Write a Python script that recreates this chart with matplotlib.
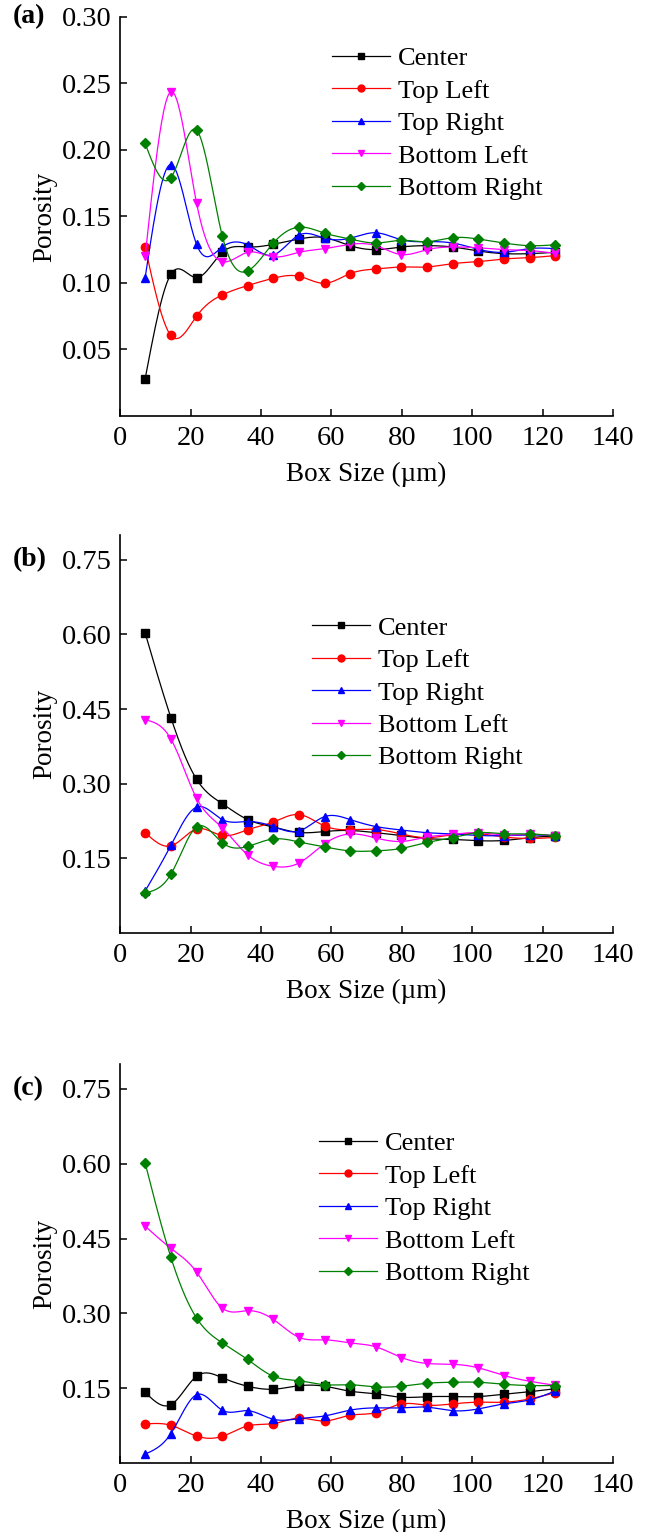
import numpy as np
import matplotlib
matplotlib.use("Agg")
import matplotlib.pyplot as plt

plt.rcParams['font.family'] = ['Liberation Serif', 'DejaVu Serif']

# box sizes (um)
box_size = [7.1, 14.4, 21.7, 29.0, 36.2, 43.5, 50.8, 58.1, 65.3,
            72.6, 79.9, 87.2, 94.4, 101.7, 109.0, 116.3, 123.4]

names = ["Center", "Top Left", "Top Right", "Bottom Left", "Bottom Right"]
colors = ["black", "#ff0000", "#0000ff", "#ff00ff", "#008000"]
markers = ["s", "o", "^", "v", "D"]

# (a)
a_center = [0.028, 0.1065, 0.104, 0.123, 0.127, 0.129, 0.133, 0.134, 0.128,
            0.125, 0.127, 0.128, 0.127, 0.124, 0.122, 0.122, 0.123]
a_topleft = [0.127, 0.0605, 0.075, 0.091, 0.098, 0.1035, 0.105, 0.0997, 0.107,
             0.1105, 0.112, 0.112, 0.1145, 0.116, 0.118, 0.119, 0.1205]
a_topright = [0.104, 0.189, 0.129, 0.127, 0.1286, 0.121, 0.136, 0.1336, 0.1336,
              0.1377, 0.1324, 0.131, 0.130, 0.1253, 0.123, 0.1258, 0.1258]
a_botleft = [0.120, 0.2437, 0.160, 0.116, 0.123, 0.1196, 0.123, 0.1258, 0.129,
             0.128, 0.1213, 0.125, 0.127, 0.1264, 0.125, 0.1243, 0.1223]
a_botright = [0.2048, 0.179, 0.2148, 0.1354, 0.109, 0.130, 0.1419, 0.1374, 0.133,
              0.130, 0.132, 0.131, 0.134, 0.133, 0.130, 0.128, 0.1286]

# (b)
b_center = [0.603, 0.433, 0.309, 0.260, 0.228, 0.213, 0.202, 0.204, 0.206,
            0.2016, 0.196, 0.1896, 0.188, 0.1855, 0.186, 0.1916, 0.195]
b_topleft = [0.2016, 0.175, 0.209, 0.196, 0.2076, 0.223, 0.238, 0.215, 0.2076,
             0.208, 0.199, 0.1916, 0.1976, 0.1996, 0.193, 0.190, 0.192]
b_topright = [0.0844, 0.176, 0.253, 0.228, 0.224, 0.214, 0.205, 0.234, 0.228,
              0.214, 0.207, 0.2016, 0.199, 0.196, 0.1956, 0.197, 0.1956]
b_botleft = [0.4286, 0.390, 0.271, 0.2116, 0.157, 0.134, 0.1407, 0.1795, 0.199,
             0.191, 0.184, 0.193, 0.1983, 0.2016, 0.197, 0.1983, 0.1956]
b_botright = [0.0804, 0.118, 0.213, 0.1815, 0.174, 0.189, 0.183, 0.173, 0.165,
              0.165, 0.170, 0.182, 0.1916, 0.2016, 0.1996, 0.199, 0.1956]

# (c)
c_center = [0.142, 0.117, 0.174, 0.171, 0.154, 0.148, 0.155, 0.154, 0.144,
            0.139, 0.132, 0.133, 0.1333, 0.1333, 0.138, 0.143, 0.149]
c_topleft = [0.0784, 0.0757, 0.054, 0.0536, 0.0744, 0.079, 0.090, 0.0844, 0.0958,
             0.101, 0.1186, 0.116, 0.1186, 0.122, 0.122, 0.1286, 0.1407]
c_topright = [0.018, 0.059, 0.137, 0.106, 0.105, 0.0878, 0.089, 0.0945, 0.106,
              0.1106, 0.1106, 0.112, 0.105, 0.1085, 0.1186, 0.1266, 0.144]
c_botleft = [0.4748, 0.4306, 0.383, 0.3107, 0.3054, 0.288, 0.252, 0.247, 0.241,
             0.233, 0.2116, 0.1996, 0.198, 0.191, 0.1755, 0.164, 0.156]
c_botright = [0.6013, 0.4125, 0.2907, 0.241, 0.2076, 0.174, 0.165, 0.157, 0.157,
              0.1527, 0.154, 0.160, 0.162, 0.162, 0.158, 0.1554, 0.1554]


def spline(x, y, n=400):
    # natural cubic spline through the points, just for drawing the line
    x = np.asarray(x, float)
    y = np.asarray(y, float)
    k = len(x)
    h = np.diff(x)
    A = np.zeros((k, k))
    r = np.zeros(k)
    A[0, 0] = A[-1, -1] = 1
    for i in range(1, k - 1):
        A[i, i - 1] = h[i - 1]
        A[i, i] = 2 * (h[i - 1] + h[i])
        A[i, i + 1] = h[i]
        r[i] = 3 * ((y[i + 1] - y[i]) / h[i] - (y[i] - y[i - 1]) / h[i - 1])
    c = np.linalg.solve(A, r)
    b = (y[1:] - y[:-1]) / h - h * (2 * c[:-1] + c[1:]) / 3
    d = (c[1:] - c[:-1]) / (3 * h)
    xs = np.linspace(x[0], x[-1], n)
    idx = np.clip(np.searchsorted(x, xs) - 1, 0, k - 2)
    t = xs - x[idx]
    ys = y[idx] + b[idx] * t + c[idx] * t ** 2 + d[idx] * t ** 3
    return xs, ys


panels = [
    ("(a)", [a_center, a_topleft, a_topright, a_botleft, a_botright],
     0.30, [0.05, 0.10, 0.15, 0.20, 0.25, 0.30], (0.43, 0.925)),
    ("(b)", [b_center, b_topleft, b_topright, b_botleft, b_botright],
     0.80, [0.15, 0.30, 0.45, 0.60, 0.75], (0.389, 0.796)),
    ("(c)", [c_center, c_topleft, c_topright, c_botleft, c_botright],
     0.80, [0.15, 0.30, 0.45, 0.60, 0.75], (0.404, 0.83)),
]
rects = [[0.186, 0.7285, 0.763, 0.2605],
         [0.186, 0.391, 0.763, 0.2598],
         [0.186, 0.045, 0.763, 0.2605]]

fig = plt.figure(figsize=(6.46, 15.32), dpi=100)

for (label, series, ymax, yticks, leg_pos), rect in zip(panels, rects):
    ax = fig.add_axes(rect)
    for vals, name, col, mk in zip(series, names, colors, markers):
        xs, ys = spline(box_size, vals)
        ax.plot(xs, ys, color=col, lw=0.9)
        ax.plot(box_size, vals, linestyle='none', marker=mk, color=col,
                markersize=6 if mk != "D" else 5)
        ax.plot([], [], color=col, lw=0.9, marker=mk,
                markersize=5 if mk != "D" else 4, label=name)
    ax.set_xlim(0, 140)
    ax.set_ylim(0, ymax)
    ax.set_xticks(range(0, 141, 20))
    ax.set_yticks(yticks)
    ax.set_yticklabels(["%.2f" % v for v in yticks])
    for s in ["top", "right"]:
        ax.spines[s].set_visible(False)
    for s in ["left", "bottom"]:
        ax.spines[s].set_linewidth(1.2)
    ax.tick_params(direction='in', length=5, width=1.1, labelsize=20.5, pad=6)
    ax.tick_params(axis='x', pad=7)
    ax.set_xlabel("Box Size (µm)", fontsize=19.5, labelpad=8)
    ax.set_ylabel("Porosity", fontsize=19.5, labelpad=3)
    ax.legend(loc='upper left', bbox_to_anchor=leg_pos,
              frameon=False, fontsize=19, handlelength=2.2, handletextpad=0.3,
              labelspacing=0.34, borderpad=0, borderaxespad=0)
    yt = ymax if label == "(a)" else 0.75
    ax.annotate(label, xy=(0, yt), xycoords=('axes fraction', 'data'),
                xytext=(-107, 0), textcoords='offset pixels',
                fontsize=20, fontweight='bold', va='center', ha='left')

fig.savefig("out.png", dpi=100)
